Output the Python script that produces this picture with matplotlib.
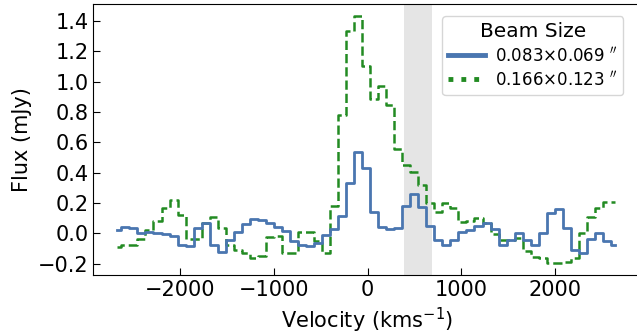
import numpy as np
import matplotlib
matplotlib.use('Agg')
import matplotlib.pyplot as plt
from matplotlib.lines import Line2D

# ── Data ──────────────────────────────────────────────────────────────────────
# channel velocities (km/s), channel width ~86 km/s
VELOCITY = [
    -2669, -2583, -2498, -2412, -2327, -2241, -2155, -2070, -1984, -1899,
    -1813, -1727, -1642, -1556, -1471, -1385, -1299, -1214, -1128, -1043,
    -957, -871, -786, -700, -615, -529, -443, -358, -272, -187,
    -101, -15, 70, 156, 241, 327, 413, 498, 584, 669,
    755, 841, 926, 1012, 1097, 1183, 1269, 1354, 1440, 1525,
    1611, 1697, 1782, 1868, 1953, 2039, 2125, 2210, 2296, 2381,
    2467, 2553, 2638,
]

# flux (mJy), high-resolution cube
FLUX_SMALL = [
    0.020, 0.040, 0.035, 0.000, 0.010, 0.000, -0.007, -0.018, -0.080, -0.082,
    0.035, 0.065, -0.075, -0.120, -0.045, 0.007, 0.060, 0.094, 0.088, 0.066,
    0.044, 0.015, -0.048, -0.077, -0.084, -0.066, -0.011, 0.026, 0.114, 0.330,
    0.534, 0.430, 0.143, 0.040, 0.026, 0.037, 0.182, 0.257, 0.176, 0.048,
    -0.044, -0.077, -0.044, 0.007, 0.022, 0.048, 0.066, 0.030, -0.080, -0.044,
    0.005, -0.044, -0.080, 0.004, 0.136, 0.158, 0.033, -0.110, -0.132, -0.037,
    0.000, -0.049, -0.077,
]

# flux (mJy), tapered cube
FLUX_LARGE = [
    -0.092, -0.080, -0.080, -0.035, 0.020, 0.080, 0.170, 0.220, 0.120, -0.035,
    -0.035, 0.070, 0.105, 0.035, -0.075, -0.112, -0.130, -0.160, -0.150, -0.025,
    -0.020, -0.130, -0.128, 0.007, 0.007, -0.050, -0.130, 0.180, 0.780, 1.336,
    1.435, 1.100, 0.884, 0.972, 0.846, 0.554, 0.450, 0.406, 0.316, 0.198,
    0.143, 0.198, 0.165, 0.077, 0.083, 0.100, 0.066, -0.004, -0.044, -0.044,
    -0.030, -0.115, -0.158, -0.160, -0.194, -0.194, -0.190, -0.160, 0.000, 0.110,
    0.165, 0.209, 0.209,
]

BEAM_LABELS = [r"0.083×0.069 $''$", r"0.166×0.123 $''$"]
SHADE_RANGE = (390, 685)   # km/s

BLUE = '#4A76B0'
GREEN = '#228B22'

plt.rcParams.update({
    'font.family': 'DejaVu Sans',
    'xtick.direction': 'in',
    'ytick.direction': 'in',
    'xtick.labelsize': 15,
    'ytick.labelsize': 15,
    'xtick.major.size': 5,
    'ytick.major.size': 5,
})


def plot_spectrum():
    fig = plt.figure(figsize=(6.37, 3.34), dpi=100)
    ax = fig.add_axes([0.1466, 0.1757, 0.858, 0.8123])

    ax.axvspan(*SHADE_RANGE, color='grey', alpha=0.2, lw=0, zorder=0)
    ax.step(VELOCITY, FLUX_SMALL, where='mid', color=BLUE, lw=2.0, zorder=3)
    ax.step(VELOCITY, FLUX_LARGE, where='mid', color=GREEN, lw=1.8,
            ls='--', zorder=2)

    ax.set_xlim(-2925, 2905)
    ax.set_ylim(-0.277, 1.512)
    ax.set_xticks([-2000, -1000, 0, 1000, 2000])
    ax.set_yticks(np.arange(-0.2, 1.41, 0.2))
    ax.set_xlabel(r'Velocity (kms$^{-1}$)', fontsize=15)
    ax.set_ylabel('Flux (mJy)', fontsize=15)

    handles = [
        Line2D([0], [0], color=BLUE, lw=3.5),
        Line2D([0], [0], color=GREEN, lw=3.5, ls=':'),
    ]
    ax.legend(handles, BEAM_LABELS, title='Beam Size', loc='upper right',
              bbox_to_anchor=(0.985, 0.985), fontsize=12,
              title_fontsize=14.5, handlelength=2.2, borderpad=0.35,
              labelspacing=0.3, handletextpad=0.6)

    fig.savefig('out.png', dpi=100)
    plt.close(fig)


if __name__ == '__main__':
    plot_spectrum()
